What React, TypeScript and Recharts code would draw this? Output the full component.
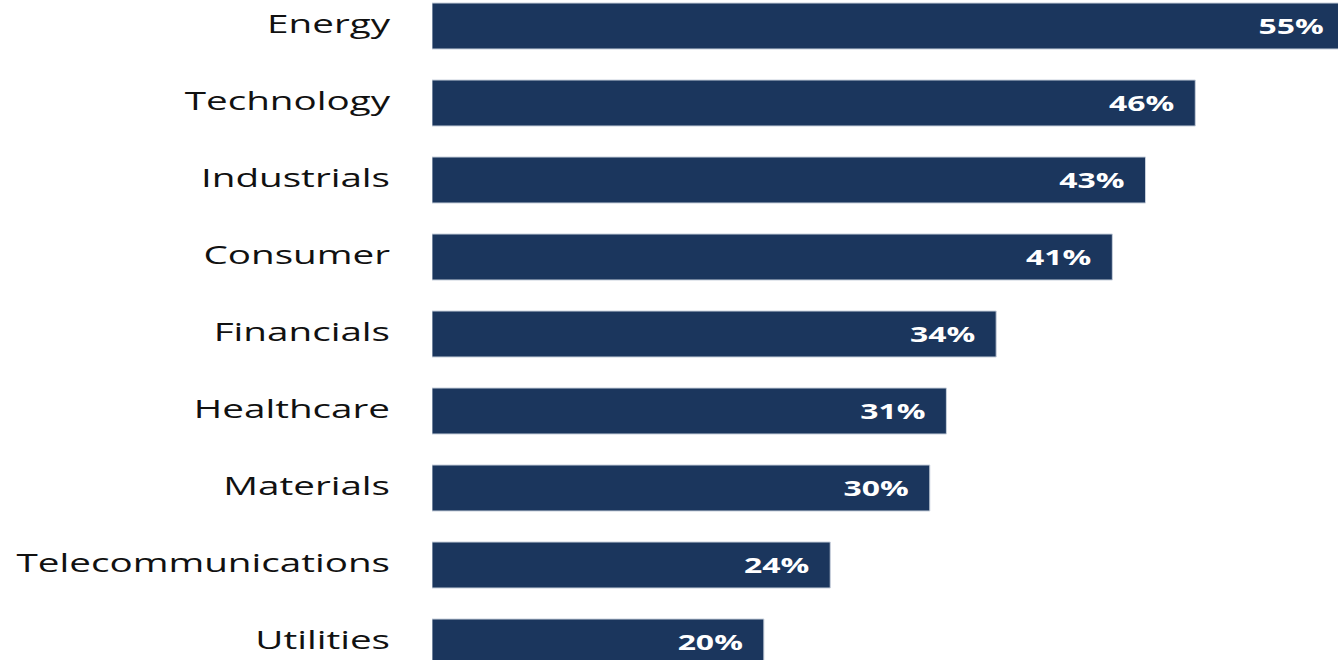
import { BarChart, Bar, XAxis, YAxis, LabelList } from 'recharts';

// Sector share, % (top to bottom)
const sectors = [
  'Energy',
  'Technology',
  'Industrials',
  'Consumer',
  'Financials',
  'Healthcare',
  'Materials',
  'Telecommunications',
  'Utilities',
];
const shares = [55, 46, 43, 41, 34, 31, 30, 24, 20];

const NAVY = '#1B365D';
// source image text is drawn wide, so stretch glyphs horizontally
const TICK_STRETCH = 1.545;
const LABEL_STRETCH = 1.52;

const data = sectors.map((name, i) => ({ name, value: shares[i] }));

const SectorTick = (props: any) => {
  const { x, y, payload } = props;
  return (
    <g transform={`translate(${x},${y})`}>
      <text
        x={0}
        y={0}
        dy={7}
        textAnchor="end"
        transform={`scale(${TICK_STRETCH},1)`}
        fill="#111111"
        fontSize={25}
        fontFamily="'Open Sans', sans-serif"
      >
        {payload.value}
      </text>
    </g>
  );
};

const ValueLabel = (props: any) => {
  const { x, y, width, height, value } = props;
  return (
    <g transform={`translate(${x + width - 21},${y + height / 2})`}>
      <text
        x={0}
        y={0}
        dy={8}
        textAnchor="end"
        transform={`scale(${LABEL_STRETCH},1)`}
        fill="#ffffff"
        fontSize={21}
        fontWeight={700}
        fontFamily="'Open Sans', sans-serif"
      >
        {value}%
      </text>
    </g>
  );
};

export default function App() {
  return (
    <div
      style={{
        position: 'absolute',
        left: 0,
        top: 0,
        width: 1338,
        height: 660,
        overflow: 'hidden',
        background: '#ffffff',
      }}
    >
      <div style={{ position: 'absolute', left: 0, top: -13 }}>
        <BarChart
          width={1338}
          height={693}
          data={data}
          layout="vertical"
          margin={{ top: 0, right: 0, left: 0, bottom: 0 }}
        >
          <XAxis type="number" hide domain={[0, 54.6]} allowDataOverflow />
          <YAxis
            type="category"
            dataKey="name"
            width={432}
            axisLine={false}
            tickLine={false}
            tickSize={0}
            tickMargin={42}
            tick={<SectorTick />}
            interval={0}
          />
          <Bar
            dataKey="value"
            fill={NAVY}
            stroke="#c8d0dc"
            strokeWidth={1}
            barSize={46}
            isAnimationActive={false}
          >
            <LabelList dataKey="value" content={<ValueLabel />} />
          </Bar>
        </BarChart>
      </div>
    </div>
  );
}
